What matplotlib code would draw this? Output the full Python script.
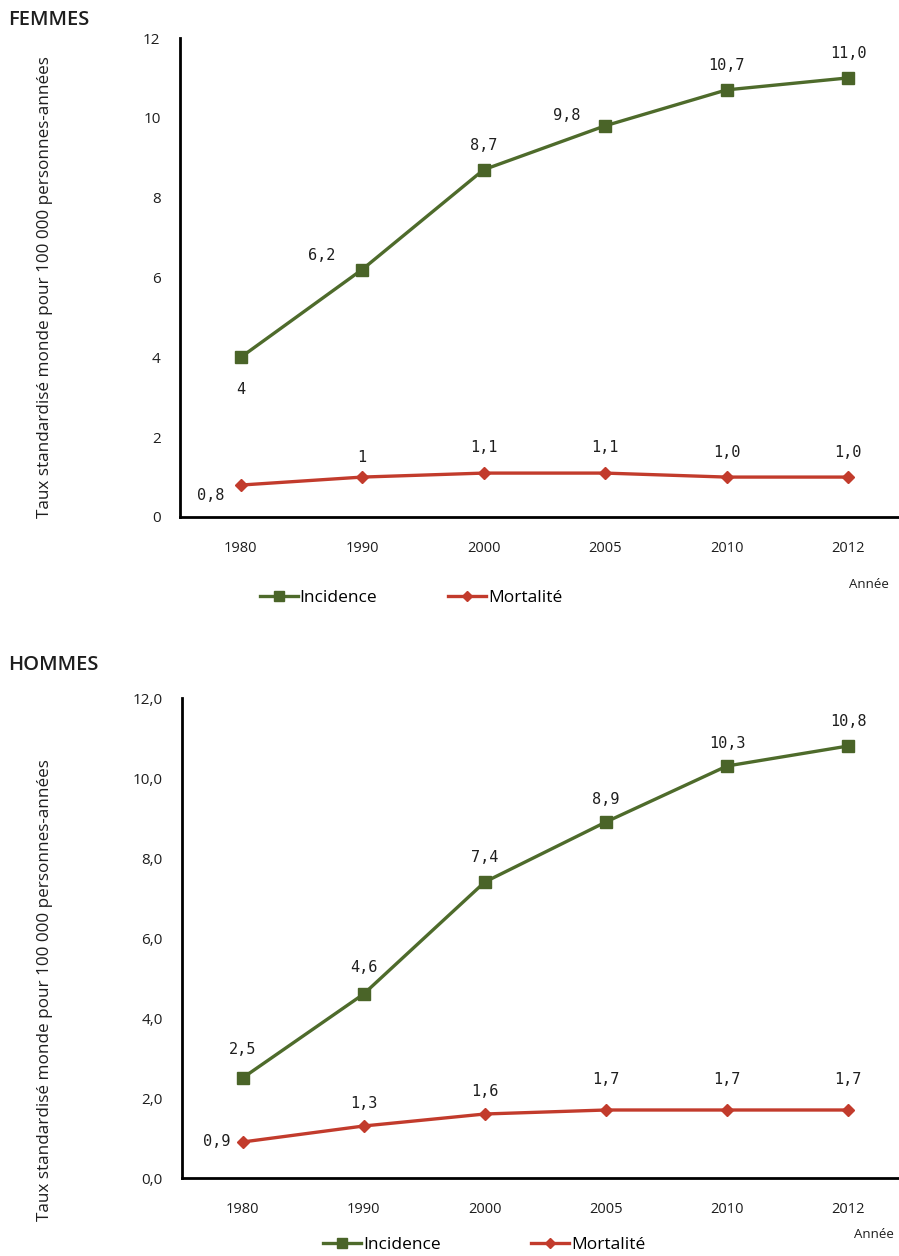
import matplotlib
matplotlib.use("Agg")
import matplotlib.pyplot as plt
from matplotlib.lines import Line2D

years = ["1980", "1990", "2000", "2005", "2010", "2012"]
femmes_incidence = [4.0, 6.2, 8.7, 9.8, 10.7, 11.0]
femmes_mortalite = [0.8, 1.0, 1.1, 1.1, 1.0, 1.0]
femmes_inc_labels = ["4", "6,2", "8,7", "9,8", "10,7", "11,0"]
femmes_mort_labels = ["0,8", "1", "1,1", "1,1", "1,0", "1,0"]
hommes_incidence = [2.5, 4.6, 7.4, 8.9, 10.3, 10.8]
hommes_mortalite = [0.9, 1.3, 1.6, 1.7, 1.7, 1.7]
hommes_inc_labels = ["2,5", "4,6", "7,4", "8,9", "10,3", "10,8"]
hommes_mort_labels = ["0,9", "1,3", "1,6", "1,7", "1,7", "1,7"]
femmes_yticks = ["0", "2", "4", "6", "8", "10", "12"]
hommes_yticks = ["0,0", "2,0", "4,0", "6,0", "8,0", "10,0", "12,0"]

GREEN = "#4e6b2b"
GREEN_M = "#4a6428"
RED = "#c23b2c"
TXT = "#1e1e1e"
YLABEL = "Taux standardisé monde pour 100 000 personnes-années"
FONT = ["Open Sans", "DejaVu Sans"]
MONO = ["DejaVu Sans Mono"]

W, H = 899, 1256
fig = plt.figure(figsize=(W / 100, H / 100), dpi=100)


def fx(px):
    return px / W


def fy(py):
    return 1 - py / H


def panel(rect, inc, mort, inc_lab, mort_lab, inc_off, mort_off, yticklabels):
    ax = fig.add_axes(rect)
    x = list(range(len(years)))
    ax.plot(x, inc, color=GREEN, lw=2.4, marker="s", ms=8.5, mfc=GREEN_M,
            mec=GREEN_M, clip_on=False, zorder=3)
    ax.plot(x, mort, color=RED, lw=2.4, marker="D", ms=6.5, mfc=RED,
            mec=RED, clip_on=False, zorder=3)
    for i in x:
        ax.annotate(inc_lab[i], (i, inc[i]), xytext=inc_off[i],
                    textcoords="offset pixels", ha="center", va="center",
                    fontsize=11, family=MONO, color=TXT)
        ax.annotate(mort_lab[i], (i, mort[i]), xytext=mort_off[i],
                    textcoords="offset pixels", ha="center", va="center",
                    fontsize=11, family=MONO, color=TXT)
    ax.set_xlim(-0.5, 5.42)
    ax.set_ylim(0, 12)
    ax.set_yticks(range(0, 13, 2))
    ax.set_yticklabels(yticklabels, family=FONT, fontsize=11,
                       fontweight="medium", color=TXT)
    ax.set_xticks(x)
    ax.set_xticklabels(years, family=FONT, fontsize=10.5,
                       fontweight="medium", color=TXT)
    ax.tick_params(axis="y", length=0, pad=14)
    ax.tick_params(axis="x", length=0, pad=17)
    for s in ["top", "right"]:
        ax.spines[s].set_visible(False)
    for s in ["left", "bottom"]:
        ax.spines[s].set_linewidth(2)
        ax.spines[s].set_color("black")
    ax.patch.set_alpha(0)
    return ax


inc_off_f = [(0, -32), (-40, 14), (0, 24), (-38, 10), (0, 24), (0, 24)]
mort_off_f = [(-30, -10), (0, 20), (0, 26), (0, 26), (0, 25), (0, 25)]
ax1 = panel([fx(180), fy(517), 1 - fx(180), (517 - 38) / H],
            femmes_incidence, femmes_mortalite, femmes_inc_labels,
            femmes_mort_labels, inc_off_f, mort_off_f, femmes_yticks)

inc_off_h = [(0, 28), (0, 27), (0, 24), (0, 22), (0, 22), (0, 24)]
mort_off_h = [(-26, 0), (0, 23), (0, 23), (0, 30), (0, 30), (0, 30)]
ax2 = panel([fx(182), fy(1178), 1 - fx(182), (1178 - 698) / H],
            hommes_incidence, hommes_mortalite, hommes_inc_labels,
            hommes_mort_labels, inc_off_h, mort_off_h, hommes_yticks)

# titles
fig.text(fx(8), fy(20), "FEMMES", ha="left", va="center", fontsize=14.5,
         family=FONT, fontweight="semibold", color=TXT)
fig.text(fx(8), fy(665), "HOMMES", ha="left", va="center", fontsize=14.5,
         family=FONT, fontweight="semibold", color=TXT)

# y labels
fig.text(fx(45), fy(287), YLABEL, rotation=90, ha="center", va="center",
         fontsize=12.3, family=FONT, color=TXT)
fig.text(fx(45), fy(990), YLABEL, rotation=90, ha="center", va="center",
         fontsize=12.3, family=FONT, color=TXT)

# Année
fig.text(fx(849), fy(585), "Année", ha="left", va="center", fontsize=9.5,
         family=FONT, color=TXT)
fig.text(fx(854), fy(1234), "Année", ha="left", va="center", fontsize=9.5,
         family=FONT, color=TXT)

handles = [
    Line2D([], [], color=GREEN, lw=2.4, marker="s", ms=7, mfc=GREEN_M, mec=GREEN_M),
    Line2D([], [], color=RED, lw=2.4, marker="D", ms=5.5, mfc=RED, mec=RED),
]
labels = ["Incidence", "Mortalité"]
fig.legend(handles, labels, loc="center", bbox_to_anchor=(fx(411), fy(598)),
           ncol=2, frameon=False, prop={"family": FONT, "size": 12.5},
           handlelength=2.2, handletextpad=0.1, columnspacing=4.1)
fig.legend(handles, labels, loc="center", bbox_to_anchor=(fx(484), fy(1245)),
           ncol=2, frameon=False, prop={"family": FONT, "size": 12.5},
           handlelength=2.2, handletextpad=0.1, columnspacing=5.2)

fig.savefig("out.png", dpi=100)
